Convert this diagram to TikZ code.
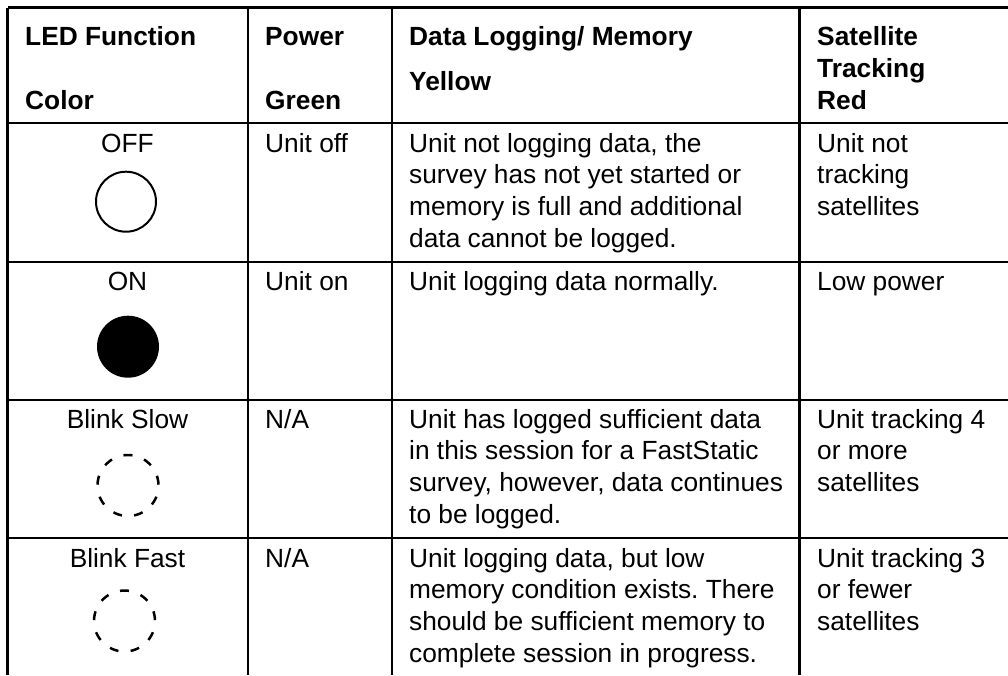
\documentclass[tikz,border=0pt]{standalone}
\usepackage{fontspec}
\setmainfont{Liberation Sans}
\frenchspacing
\begin{document}
\begin{tikzpicture}[x=1pt,y=-1pt,
  rule/.style={line width=2.5pt},
  hd/.style={anchor=base west,inner sep=0pt,font=\fontsize{26.3}{31.7}\selectfont\bfseries},
  cell/.style={anchor=base west,inner sep=0pt,align=left,font=\fontsize{26.3}{31.7}\selectfont},
  ctr/.style={anchor=base,inner sep=0pt,font=\fontsize{26.3}{31.7}\selectfont},
  ledoff/.style={circle,draw,line width=2pt,minimum size=60pt,inner sep=0pt},
  ledon/.style={circle,fill=black,minimum size=62pt,inner sep=0pt},
  ledblink/.style={circle,draw,line width=2.5pt,minimum size=61pt,inner sep=0pt,
    dash pattern=on 9pt off 12.29pt,dash phase=20.47pt}
]
\useasboundingbox (0,0) rectangle (1008,675);
\clip (0,0) rectangle (1008,675);
% grid
\coordinate (tl) at (7.5,7.5);
\coordinate (tr) at (1008,7.5);
\coordinate (bl) at (7.5,675);
\coordinate (h1l) at (7.5,123); \coordinate (h1r) at (1008,123);
\coordinate (h2l) at (7.5,262); \coordinate (h2r) at (1008,262);
\coordinate (h3l) at (7.5,400); \coordinate (h3r) at (1008,400);
\coordinate (h4l) at (7.5,538); \coordinate (h4r) at (1008,538);
\coordinate (v1t) at (248,7.5); \coordinate (v1b) at (248,675);
\coordinate (v2t) at (392,7.5); \coordinate (v2b) at (392,675);
\coordinate (v3t) at (799.5,7.5); \coordinate (v3b) at (799.5,675);
\draw[rule] (tl) -- (tr);
\draw[rule] (tl) -- (bl);
\draw[rule] (h1l) -- (h1r);
\draw[rule] (h2l) -- (h2r);
\draw[rule] (h3l) -- (h3r);
\draw[rule] (h4l) -- (h4r);
\draw[rule] (v1t) -- (v1b);
\draw[rule] (v2t) -- (v2b);
\draw[rule] (v3t) -- (v3b);
% header
\node[hd] (hled) at (25,45) {LED Function};
\node[hd] (hcol) at (25,109.3) {Color};
\node[hd] (hpow) at (265,45) {Power};
\node[hd] (hgrn) at (265,109.3) {Green};
\node[hd] (hdat) at (409,45) {Data Logging/ Memory};
\node[hd] (hyel) at (409,90.7) {Yellow};
\node[hd] (hsat) at (817,45) {Satellite};
\node[hd] (htrk) at (817,77) {Tracking};
\node[hd] (hred) at (817,109.3) {Red};
% row 1 (multi-line nodes anchored at the baseline of their last line)
\node[ctr] (off) at (127.5,152) {OFF};
\node[ledoff] (offled) at (126,201.7) {};
\node[cell] (offpow) at (265,152) {Unit off};
\node[cell] (offdat) at (409,247.1) {Unit not logging data, the\\survey has not yet started or\\memory is full and additional\\data cannot be logged.};
\node[cell] (offsat) at (817,215.4) {Unit not\\tracking\\satellites};
% row 2
\node[ctr] (on) at (127.5,290.5) {ON};
\node[ledon] (onled) at (128,346.7) {};
\node[cell] (onpow) at (265,290.5) {Unit on};
\node[cell] (ondat) at (409,290.5) {Unit logging data normally.};
\node[cell] (onsat) at (817,290.5) {Low power};
% row 3
\node[ctr] (slow) at (127.5,428) {Blink Slow};
\node[ledblink] (slowled) at (128,485.5) {};
\node[cell] (slowpow) at (265,428) {N/A};
\node[cell] (slowdat) at (409,523.1) {Unit has logged sufficient data\\in this session for a FastStatic\\survey, however, data continues\\to be logged.};
\node[cell] (slowsat) at (817,491.4) {Unit tracking 4\\or more\\satellites};
% row 4
\node[ctr] (fast) at (127.5,567) {Blink Fast};
\node[ledblink] (fastled) at (124.5,621) {};
\node[cell] (fastpow) at (265,567) {N/A};
\node[cell] (fastdat) at (409,662.1) {Unit logging data, but low\\memory condition exists. There\\should be sufficient memory to\\complete session in progress.};
\node[cell] (fastsat) at (817,630.4) {Unit tracking 3\\or fewer\\satellites};
\end{tikzpicture}
\end{document}
